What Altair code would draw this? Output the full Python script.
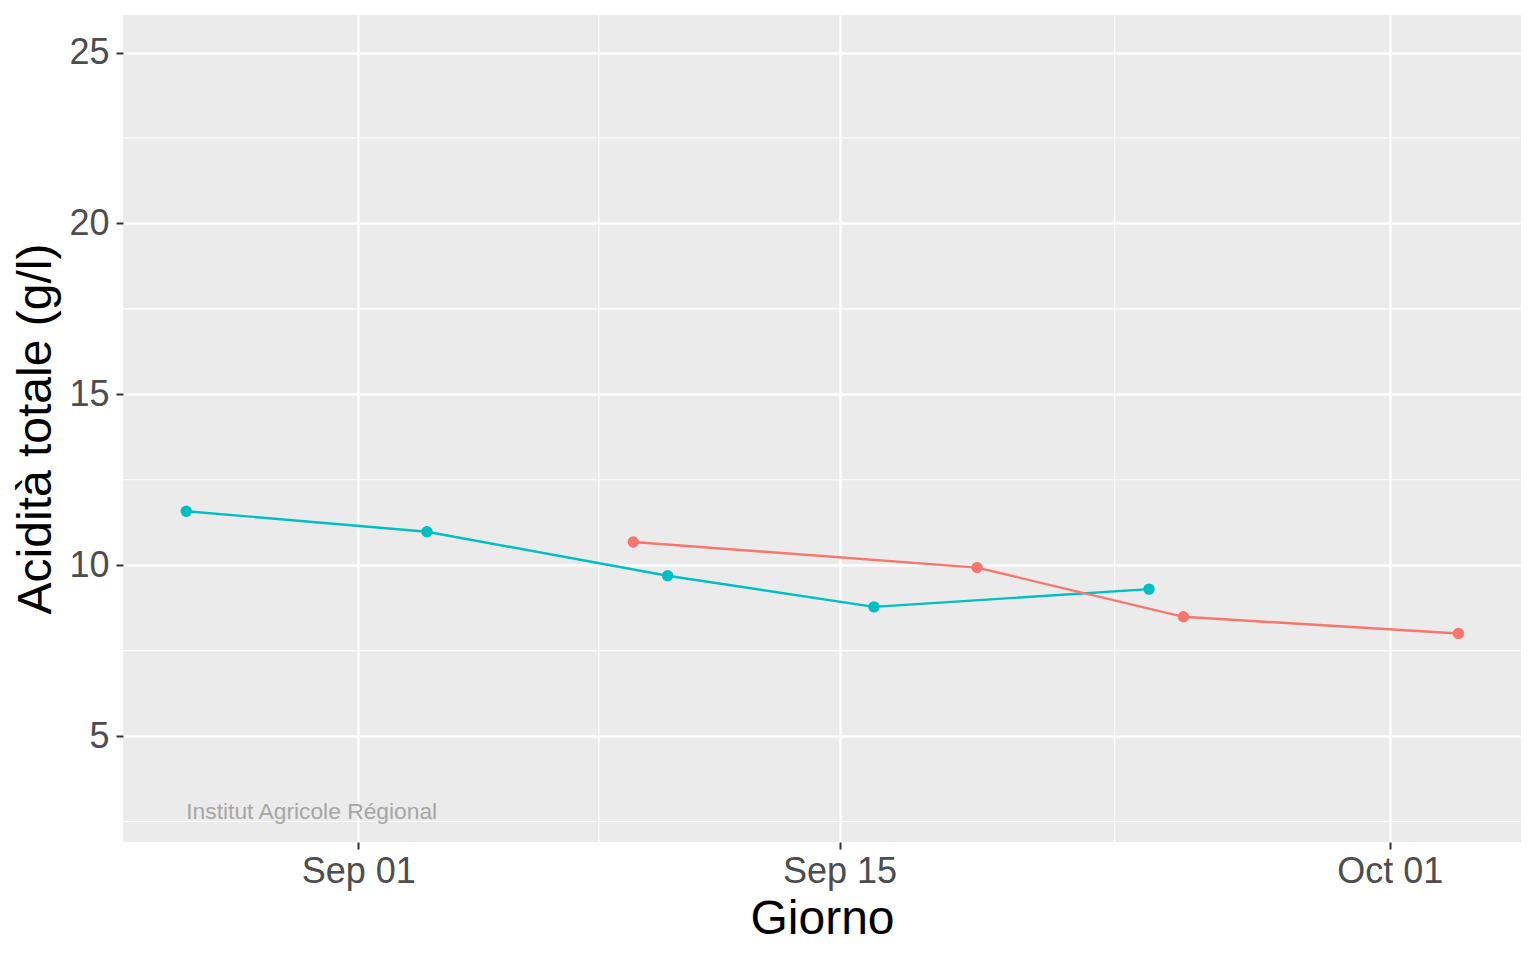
import altair as alt
import pandas as pd

# --- data ---
series_a_name = "Serie A"
series_a_dates = ["2023-08-27", "2023-09-03", "2023-09-10", "2023-09-16", "2023-09-24"]
series_a_values = [11.58, 10.98, 9.69, 8.78, 9.30]

series_b_name = "Serie B"
series_b_dates = ["2023-09-09", "2023-09-19", "2023-09-25", "2023-10-03"]
series_b_values = [10.68, 9.93, 8.49, 8.00]

series_names = [series_b_name, series_a_name]
series_colors = ["#F8766D", "#00BFC4"]

y_major = [5, 10, 15, 20, 25]
y_minor = [2.5, 7.5, 12.5, 17.5, 22.5]
x_minor = ["2023-09-08", "2023-09-23"]

note_text = ["Institut Agricole Régional"]
note_date = ["2023-08-27"]
note_value = [2.58]

df = pd.concat([
    pd.DataFrame({"Giorno": series_a_dates, "val": series_a_values, "serie": series_a_name}),
    pd.DataFrame({"Giorno": series_b_dates, "val": series_b_values, "serie": series_b_name}),
], ignore_index=True)

xmin_df = pd.DataFrame({"d": x_minor})
ymin_df = pd.DataFrame({"v": y_minor})
note_df = pd.DataFrame({"d": note_date, "v": note_value, "t": note_text})

x_scale = alt.Scale(
    type="utc",
    domain=[alt.DateTime(year=2023, month=8, date=25, hours=3, minutes=50, utc=True),
            alt.DateTime(year=2023, month=10, date=4, hours=19, minutes=40, utc=True)],
)
y_scale = alt.Scale(domain=[1.9, 26.1], nice=False, zero=False)

x_axis = alt.Axis(
    title="Giorno",
    values=[alt.DateTime(year=2023, month=9, date=1, utc=True),
            alt.DateTime(year=2023, month=9, date=15, utc=True),
            alt.DateTime(year=2023, month=10, date=1, utc=True)],
    format="%b %d",
    labelPadding=5,
    titlePadding=6,
    labelOverlap=False,
    labelFlush=False,
)
y_axis = alt.Axis(
    title="Acidità totale (g/l)",
    values=y_major,
    labelPadding=7,
    titlePadding=8,
    labelOverlap=False,
    labelFlush=False,
)

color = alt.Color("serie:N", scale=alt.Scale(domain=series_names, range=series_colors), legend=None)

xminor = alt.Chart(xmin_df).mark_rule(color="white", strokeWidth=1.2).encode(
    x=alt.X("d:T", scale=x_scale, axis=x_axis, title="Giorno")
)
yminor = alt.Chart(ymin_df).mark_rule(color="white", strokeWidth=1.2).encode(
    y=alt.Y("v:Q", scale=y_scale, axis=y_axis, title="Acidità totale (g/l)")
)

base = alt.Chart(df).encode(
    x=alt.X("Giorno:T", scale=x_scale, axis=x_axis, title="Giorno"),
    y=alt.Y("val:Q", scale=y_scale, axis=y_axis, title="Acidità totale (g/l)"),
    color=color,
)
lines = base.mark_line(strokeWidth=2.4)
points = base.mark_point(filled=True, size=130, opacity=1)

note = alt.Chart(note_df).mark_text(
    align="left", baseline="alphabetic", fontSize=22.8, color="#A6A6A6", font="Liberation Sans"
).encode(
    x=alt.X("d:T", scale=x_scale, axis=x_axis, title="Giorno"),
    y=alt.Y("v:Q", scale=y_scale, axis=y_axis, title="Acidità totale (g/l)"),
    text="t:N",
)

chart = alt.layer(xminor, yminor, lines, points, note).properties(
    width=1398,
    height=827,
    padding={"left": 115, "top": 7, "right": 7, "bottom": 100},
    autosize=alt.AutoSizeParams(type="none"),
    background="white",
).configure_view(
    fill="#EBEBEB", stroke=None
).configure_axis(
    grid=True,
    gridColor="white",
    gridWidth=2.4,
    domain=False,
    tickColor="#333333",
    tickWidth=2,
    tickSize=7,
    labelColor="#4D4D4D",
    labelFont="Liberation Sans",
    labelFontSize=36,
    titleFont="Liberation Sans",
    titleFontSize=48,
    titleFontWeight="normal",
    titleColor="black",
)

chart.save("out.html", embed_options={"renderer": "svg", "actions": False})
